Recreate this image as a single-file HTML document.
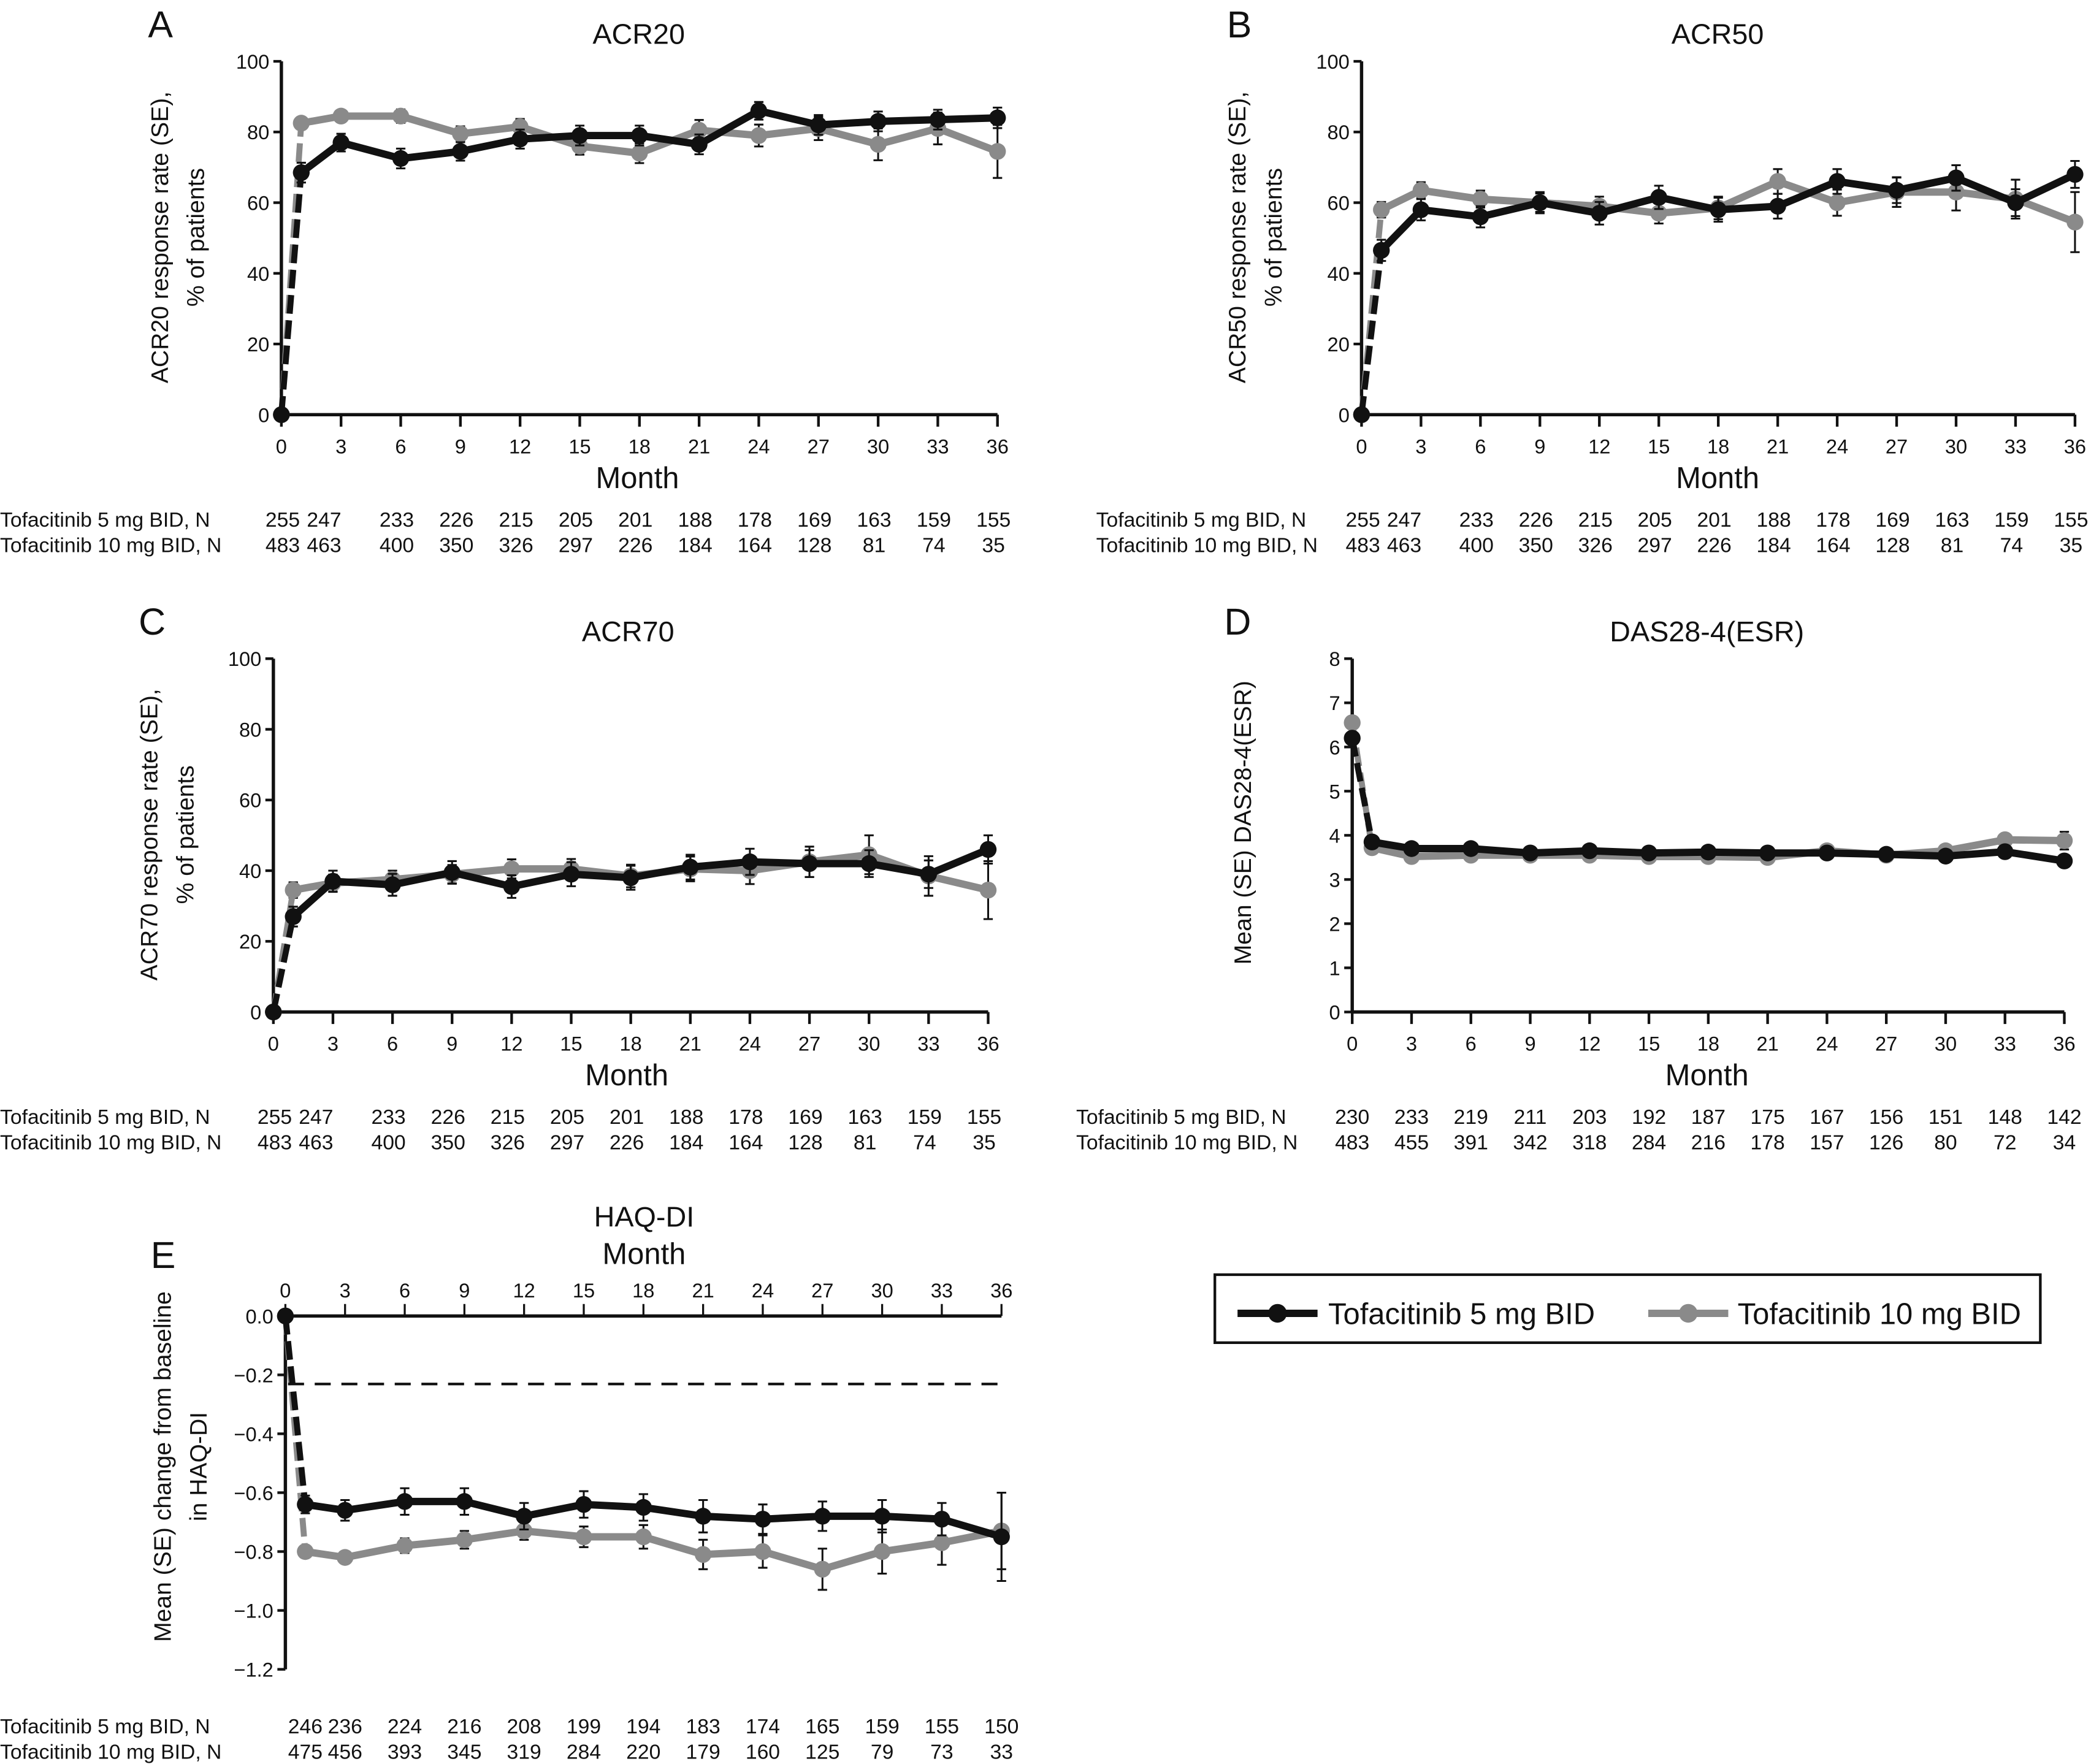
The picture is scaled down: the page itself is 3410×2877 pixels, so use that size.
<!DOCTYPE html>
<html><head><meta charset="utf-8"><style>
html,body{margin:0;padding:0;background:#fff}
svg{display:block}
text{font-family:"Liberation Sans Narrow","Liberation Sans",sans-serif;fill:#111}
.wide{font-family:"Liberation Sans",sans-serif}
</style></head><body>
<svg id="fig" width="3410" height="2877" viewBox="0 0 1568 1323" preserveAspectRatio="none" xmlns="http://www.w3.org/2000/svg"></svg>
<script>
const months = [0,1,3,6,9,12,15,18,21,24,27,30,33,36];
const tickMonths = [0,3,6,9,12,15,18,21,24,27,30,33,36];
const acr20Black = [0,68.5,77,72.5,74.5,78,79,79,76.5,86,82,83,83.5,84];
const acr20Gray = [0,82.5,84.5,84.5,79.5,81.5,76,74,80.5,79,81,76.5,81,74.5];
const acr20BlackSE = [0,2.8,2.5,2.8,2.6,2.7,2.8,2.8,2.8,2.5,2.8,2.8,2.8,2.9];
const acr20GraySE = [0,1.7,1.7,1.9,2.1,2.2,2.4,2.8,2.9,3.1,3.3,4.5,4.5,7.5];
const acr50Black = [0,46.5,58,56,60,57,61.5,58,59,66,63.5,67,60,68];
const acr50Gray = [0,58,63.5,61,60,59,57,58.5,66,60,63,63,61,54.5];
const acr50BlackSE = [0,3,3,3,3,3.2,3.3,3.4,3.5,3.5,3.6,3.6,3.8,3.8];
const acr50GraySE = [0,2.2,2.3,2.4,2.6,2.7,2.9,3.2,3.5,3.7,4.2,5.2,5.5,8.5];
const acr70Black = [0,27,37,36,39.5,35.5,39,38,41,42.5,42,42,39,46];
const acr70Gray = [0,34.5,36.5,37.5,39,40.5,40.5,38.5,40.5,40,42.5,44.5,38.5,34.5];
const acr70BlackSE = [0,2.8,3,3.1,3.2,3.2,3.4,3.4,3.5,3.7,3.8,3.8,3.9,4];
const acr70GraySE = [0,2.2,2.4,2.5,2.6,2.7,2.8,3.2,3.5,3.8,4.3,5.5,5.6,8.2];
const dasBlack = [6.2,3.85,3.7,3.7,3.6,3.65,3.6,3.62,3.6,3.6,3.57,3.53,3.63,3.42];
const dasGray = [6.55,3.72,3.52,3.55,3.55,3.55,3.52,3.52,3.5,3.65,3.55,3.65,3.9,3.88];
const dasBlackSE = [0.06,0.07,0.07,0.07,0.07,0.07,0.07,0.08,0.08,0.08,0.09,0.09,0.09,0.1];
const dasGraySE = [0.05,0.05,0.05,0.05,0.05,0.06,0.06,0.06,0.07,0.07,0.08,0.1,0.12,0.2];
const haqBlack = [0,-0.64,-0.66,-0.63,-0.63,-0.68,-0.64,-0.65,-0.68,-0.69,-0.68,-0.68,-0.69,-0.75];
const haqGray = [0,-0.80,-0.82,-0.78,-0.76,-0.73,-0.75,-0.75,-0.81,-0.80,-0.86,-0.80,-0.77,-0.73];
const haqBlackSE = [0,0.03,0.035,0.045,0.045,0.045,0.045,0.045,0.055,0.05,0.05,0.055,0.055,0.15];
const haqGraySE = [0,0.02,0.02,0.025,0.03,0.03,0.035,0.04,0.05,0.055,0.07,0.075,0.075,0.13];
const nA5 = ["255","247","233","226","215","205","201","188","178","169","163","159","155"];
const nA10 = ["483","463","400","350","326","297","226","184","164","128","81","74","35"];
const nD5 = ["230","233","219","211","203","192","187","175","167","156","151","148","142"];
const nD10 = ["483","455","391","342","318","284","216","178","157","126","80","72","34"];
const nE5 = ["246","236","224","216","208","199","194","183","174","165","159","155","150"];
const nE10 = ["475","456","393","345","319","284","220","179","160","125","79","73","33"];
const pctTicks = [0,20,40,60,80,100];
const dasTicks = [0,1,2,3,4,5,6,7,8];
const haqTicks = [0,-0.2,-0.4,-0.6,-0.8,-1.0,-1.2];

const NS = "http://www.w3.org/2000/svg";
const svg = document.getElementById('fig');
function mk(tag, attrs, parent, txt){
  const e = document.createElementNS(NS, tag);
  for (const k in attrs) e.setAttribute(k, attrs[k]);
  if (txt !== undefined) e.textContent = txt;
  (parent || svg).appendChild(e);
  return e;
}

function panel(o){
  const g = mk('g', {});
  
  
  const X = m => o.x0 + (o.x1 - o.x0) * m / 36;
  const Y = v => o.yb + (o.yt - o.yb) * (v - o.vb) / (o.vt - o.vb);
  const L = mk('text', {x:o.letter[0], y:o.letter[1], 'font-size':28, 'class':'wide'}, g, o.id);
  
  
  if (!o.top) {
    const T = mk('text', {x:o.title[0], y:o.title[1], 'font-size':21.5, 'text-anchor':'middle', 'class':'wide'}, g, o.titleText);
    
    
  }
  const ya = mk('line', {x1:o.x0, y1:Y(o.ticks[o.ticks.length-1]), x2:o.x0, y2:Y(o.ticks[0]), stroke:'#111', 'stroke-width':2.5}, g);
  
  
  o.ticks.forEach(v => {
    mk('line', {x1:o.x0-6, y1:Y(v), x2:o.x0, y2:Y(v), stroke:'#111', 'stroke-width':2}, g);
    const t = mk('text', {x:o.x0-9, y:Y(v)+5.5, 'font-size':15, 'text-anchor':'end'}, g, o.fmt(v));
    
    
  });
  const xa = mk('line', {x1:o.x0, y1:o.xaxisY, x2:X(36), y2:o.xaxisY, stroke:'#111', 'stroke-width':2.5}, g);
  
  
  tickMonths.forEach(m => {
    if (o.top) {
      mk('line', {x1:X(m), y1:o.xaxisY-9, x2:X(m), y2:o.xaxisY, stroke:'#111', 'stroke-width':1.5}, g);
      const t = mk('text', {x:X(m), y:o.xaxisY-14, 'font-size':15, 'text-anchor':'middle'}, g, String(m));
      
      
    } else {
      mk('line', {x1:X(m), y1:o.xaxisY, x2:X(m), y2:o.xaxisY+9, stroke:'#111', 'stroke-width':2}, g);
      const t = mk('text', {x:X(m), y:o.xaxisY+29, 'font-size':15, 'text-anchor':'middle'}, g, String(m));
      
      
    }
  });
  const mt = mk('text', {x:o.month[0], y:o.month[1], 'font-size':22.5, 'text-anchor':'middle'}, g, 'Month');
  
  
  if (o.top) {
    const ht = mk('text', {x:o.month[0], y:o.month[1]-28, 'font-size':21.5, 'text-anchor':'middle', 'class':'wide'}, g, o.titleText);
    
    
  }
  o.ylab.forEach((s, i) => {
    const t = mk('text', {x:0, y:0, 'font-size':18, 'text-anchor':'middle', 'class':'wide',
      transform:'translate(' + o.ylabPos[i][0] + ',' + o.ylabPos[i][1] + ') rotate(-90)'}, g, s);
    
    
  });
  function series(vals, se, color, name){
    const sg = mk('g', {}, g);
    
    
    vals.forEach((v, i) => {
      if (se[i] > 0) {
        const x = X(months[i]);
        const eb = mk('path', {d:'M'+x+' '+Y(v-se[i])+'V'+Y(v+se[i])+'M'+(x-3.5)+' '+Y(v-se[i])+'h7M'+(x-3.5)+' '+Y(v+se[i])+'h7', stroke:'#111', 'stroke-width':1.4, fill:'none'}, sg);
        
        
      }
    });
    const dl = mk('line', {x1:X(months[0]), y1:Y(vals[0]), x2:X(months[1]), y2:Y(vals[1]), stroke:color, 'stroke-width':4.5, 'stroke-dasharray':'14 5'}, sg);
    
    
    let d = '';
    for (let i = 1; i < vals.length; i++) d += (i === 1 ? 'M' : 'L') + X(months[i]) + ' ' + Y(vals[i]);
    const ln = mk('path', {d:d, stroke:color, 'stroke-width':5.5, fill:'none', 'stroke-linejoin':'round'}, sg);
    
    
    vals.forEach((v, i) => {
      const c = mk('circle', {cx:X(months[i]), cy:Y(v), r:6.3, fill:color}, sg);
      
      
    });
  }
  series(o.gray, o.graySE, '#8a8a8a', 'series-10mg');
  series(o.black, o.blackSE, '#111', 'series-5mg');
  const nrows = [[o.n5, 'Tofacitinib 5 mg BID, N'], [o.n10, 'Tofacitinib 10 mg BID, N']];
  nrows.forEach((r, ri) => {
    const y = o.nY[ri];
    const lt = mk('text', {x:o.nLabelX, y:y, 'font-size':15.5}, g, r[1]);
    
    
    r[0].forEach((s, i) => {
      let x = X(tickMonths[i]) + (o.nShift || 0);
      if (o.nFirstTwo) { if (i === 0) x = X(0) + 1; if (i === 1) x = X(0) + 32; }
      if (o.nMonth1 && i === 0) x = X(1);
      const t = mk('text', {x:x, y:y, 'font-size':15.5, 'text-anchor':'middle'}, g, s);
      
      
    });
  });
}
const pf = v => String(v);
panel({id:'A', titleText:'ACR20', letter:[111,28], title:[479,33], x0:211, x1:748, yb:311, yt:46, vb:0, vt:100, ticks:pctTicks, fmt:pf, xaxisY:311,
  month:[478,366], ylab:['ACR20 response rate (SE),','% of patients'], ylabPos:[[126,178],[153,178]],
  black:acr20Black, gray:acr20Gray, blackSE:acr20BlackSE, graySE:acr20GraySE, n5:nA5, n10:nA10, nY:[395,414], nLabelX:0, nFirstTwo:true, nShift:-3});
panel({id:'B', titleText:'ACR50', letter:[920,28], title:[1288,33], x0:1021, x1:1556, yb:311, yt:46, vb:0, vt:100, ticks:pctTicks, fmt:pf, xaxisY:311,
  month:[1288,366], ylab:['ACR50 response rate (SE),','% of patients'], ylabPos:[[934,178],[961,178]],
  black:acr50Black, gray:acr50Gray, blackSE:acr50BlackSE, graySE:acr50GraySE, n5:nA5, n10:nA10, nY:[395,414], nLabelX:822, nFirstTwo:true, nShift:-3});
panel({id:'C', titleText:'ACR70', letter:[104,476], title:[471,481], x0:205, x1:741, yb:759, yt:494, vb:0, vt:100, ticks:pctTicks, fmt:pf, xaxisY:759,
  month:[470,814], ylab:['ACR70 response rate (SE),','% of patients'], ylabPos:[[118,626],[145,626]],
  black:acr70Black, gray:acr70Gray, blackSE:acr70BlackSE, graySE:acr70GraySE, n5:nA5, n10:nA10, nY:[843,862], nLabelX:0, nFirstTwo:true, nShift:-3});
panel({id:'D', titleText:'DAS28-4(ESR)', letter:[918,476], title:[1280,481], x0:1014, x1:1548, yb:759, yt:494, vb:0, vt:8, ticks:dasTicks, fmt:pf, xaxisY:759,
  month:[1280,814], ylab:['Mean (SE) DAS28-4(ESR)'], ylabPos:[[938,617]],
  black:dasBlack, gray:dasGray, blackSE:dasBlackSE, graySE:dasGraySE, n5:nD5, n10:nD10, nY:[843,862], nLabelX:807, nShift:0});
panel({id:'E', titleText:'HAQ-DI', letter:[113,951], title:[-999,-999], x0:214, x1:751, yb:987, yt:1252, vb:0, vt:-1.2, ticks:haqTicks, fmt:v => v===0?'0.0':(v<0?'\u2212':'')+Math.abs(v).toFixed(1), xaxisY:987, top:true,
  month:[483,948], ylab:['Mean (SE) change from baseline','in HAQ-DI'], ylabPos:[[128,1100],[155,1100]],
  black:haqBlack, gray:haqGray, blackSE:haqBlackSE, graySE:haqGraySE, n5:nE5, n10:nE10, nY:[1300,1319], nLabelX:0, nMonth1:true, nShift:0});
const mcid = mk('line', {x1:216, y1:1038, x2:751, y2:1038, stroke:'#111', 'stroke-width':2, 'stroke-dasharray':'12 8'});


const lg = mk('g', {});


mk('rect', {x:911, y:956, width:619, height:51, fill:'#fff', stroke:'#111', 'stroke-width':2}, lg);
const le1 = mk('g', {}, lg);


mk('line', {x1:928, y1:985, x2:988, y2:985, stroke:'#111', 'stroke-width':5.5}, le1);
mk('circle', {cx:958, cy:985, r:7, fill:'#111'}, le1);
mk('text', {x:996, y:993, 'font-size':22.5, 'class':'wide'}, le1, 'Tofacitinib 5 mg BID');
const le2 = mk('g', {}, lg);


mk('line', {x1:1236, y1:985, x2:1296, y2:985, stroke:'#8a8a8a', 'stroke-width':5.5}, le2);
mk('circle', {cx:1266, cy:985, r:7, fill:'#8a8a8a'}, le2);
mk('text', {x:1303, y:993, 'font-size':22.5, 'class':'wide'}, le2, 'Tofacitinib 10 mg BID');
</script>
</body></html>
